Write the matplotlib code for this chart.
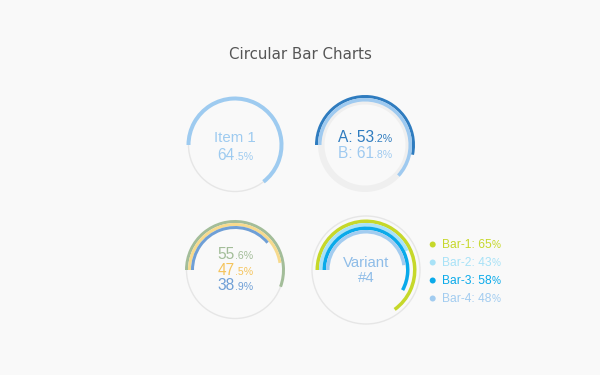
import matplotlib
matplotlib.use("Agg")
import matplotlib.pyplot as plt
from matplotlib.patches import Wedge, Circle

# ── chart values ─────────────────────────────────────────────
item_value = 64.5
ab_labels = ["A", "B"]
ab_values = [53.2, 61.8]
triple_values = [55.6, 47.5, 38.9]
variant_labels = ["Bar-1", "Bar-2", "Bar-3", "Bar-4"]
variant_values = [65, 43, 58, 48]

# ── styles ───────────────────────────────────────────────────
BG = "#f9f9f9"
RING_GREY = "#e6e6e6"
TRACK_GREY = "#efefef"
ITEM_COLOR = "#9ecbf0"
AB_COLORS = ["#2f7cbf", "#9fcaf0"]
TRIPLE_COLORS = ["#a3bd99", "#f7da8d", "#6f9fd6"]
TRIPLE_TEXT = ["#a3bd99", "#f5c45c", "#6f9fd6"]
VARIANT_COLORS = ["#c6d82a", "#a8e2f7", "#0aaaea", "#a2ccf0"]
VARIANT_TEXT = "#8fbde8"
FONT = "Liberation Sans"
PX = 0.72  # points per pixel at dpi 100

W, H = 600, 375
fig = plt.figure(figsize=(6, 3.75), dpi=100, facecolor=BG)
ax = fig.add_axes([0, 0, 1, 1])
ax.set_xlim(0, W)
ax.set_ylim(0, H)
ax.set_facecolor(BG)
ax.axis("off")


def ring(cx, cy, r_out, width, frac, color):
    # arc starts at 9 o'clock and runs clockwise
    ax.add_patch(Wedge((cx, H - cy), r_out, 180 - 360 * frac, 180,
                       width=width, facecolor=color, edgecolor="none"))


def thin_circle(cx, cy, r):
    ax.add_patch(Circle((cx, H - cy), r, fill=False, edgecolor=RING_GREY,
                        linewidth=1.0))


groups = []


def pieces(x, y, parts, align="center"):
    texts = []
    for s, size, color in parts:
        t = ax.text(x, H - y, s, fontsize=size * PX, color=color,
                    ha="left", va="baseline", family=FONT)
        texts.append(t)
    groups.append((x, texts, align))


def number_parts(value, color, big=15.5, small=10.5):
    whole, dec = f"{value:.1f}".split(".")
    return [(whole, big, color), ("." + dec + "%", small, color)]


# title
ax.text(300, H - 59, "Circular Bar Charts", fontsize=15 * PX, color="#555555",
        ha="center", va="baseline", family="DejaVu Sans")

# ── chart 1: single item ─────────────────────────────────────
c1 = (235, 145)
thin_circle(c1[0], c1[1], 46.5)
ring(c1[0], c1[1], 48.5, 4, item_value / 100, ITEM_COLOR)
pieces(c1[0], 142.5, [("Item 1", 15, ITEM_COLOR)])
pieces(c1[0], 159.5, number_parts(item_value, ITEM_COLOR))

# ── chart 2: A / B ───────────────────────────────────────────
c2 = (365, 145)
ax.add_patch(Wedge((c2[0], H - c2[1]), 47, 0, 360, width=6.5,
                   facecolor=TRACK_GREY, edgecolor="none"))
ring(c2[0], c2[1], 50, 3, ab_values[0] / 100, AB_COLORS[0])
ring(c2[0], c2[1], 47, 3.5, ab_values[1] / 100, AB_COLORS[1])
for i, (lab, val) in enumerate(zip(ab_labels, ab_values)):
    whole, dec = f"{val:.1f}".split(".")
    pieces(c2[0], 141.7 + i * 16.6,
           [(f"{lab}: {whole}", 15.5, AB_COLORS[i]),
            ("." + dec + "%", 10.5, AB_COLORS[i])])

# ── chart 3: three rings ─────────────────────────────────────
c3 = (235, 270)
thin_circle(c3[0], c3[1], 48.5)
for i, val in enumerate(triple_values):
    ring(c3[0], c3[1], 50 - 3 * i, 3, val / 100, TRIPLE_COLORS[i])
    pieces(c3[0], 259.3 + i * 15.4, number_parts(val, TRIPLE_TEXT[i]))

# ── chart 4: variant with legend ─────────────────────────────
c4 = (366, 270)
thin_circle(c4[0], c4[1], 54)
for i, val in enumerate(variant_values):
    ring(c4[0], c4[1], 50.5 - 3.5 * i, 3.5, val / 100, VARIANT_COLORS[i])
pieces(c4[0], 266.7, [("Variant", 15, VARIANT_TEXT)])
pieces(c4[0], 282.3, [("#4", 15, VARIANT_TEXT)])

for i, (lab, val) in enumerate(zip(variant_labels, variant_values)):
    y = 244.5 + i * 18
    ax.add_patch(Circle((432.7, H - y), 3, facecolor=VARIANT_COLORS[i],
                        edgecolor="none"))
    pieces(442, y + 4, [(f"{lab}: {val}", 12, VARIANT_COLORS[i]),
                        ("%", 10, VARIANT_COLORS[i])], align="left")

# lay out the mixed-size text pieces side by side
fig.canvas.draw()
renderer = fig.canvas.get_renderer()
for x, texts, align in groups:
    widths = [t.get_window_extent(renderer).width for t in texts]
    total = sum(widths)
    start = x - total / 2 if align == "center" else x
    for t, w in zip(texts, widths):
        t.set_x(start)
        start += w

fig.savefig("out.png", dpi=100, facecolor=BG)
